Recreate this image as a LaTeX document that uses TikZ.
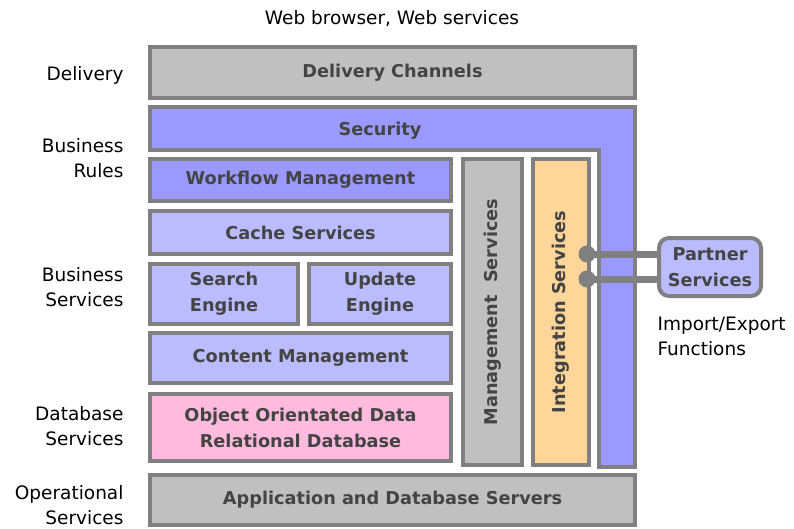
\documentclass[tikz,border=0pt]{standalone}
\usepackage{fontspec}
\setmainfont{DejaVu Sans}

\definecolor{framegray}{HTML}{808080}
\definecolor{boxgray}{HTML}{C0C0C0}
\definecolor{deepblue}{HTML}{9999FF}
\definecolor{paleblue}{HTML}{BBBBFF}
\definecolor{dbpink}{HTML}{FFBBDD}
\definecolor{integorange}{HTML}{FFD699}
\definecolor{textgray}{HTML}{444444}

\tikzstyle{layer} = [draw=framegray,line width=4pt,inner sep=0pt,align=center,text=textgray,font=\fontsize{17.7}{26}\selectfont\bfseries]
\tikzstyle{tier} = [anchor=east,align=right,font=\fontsize{18.5}{25}\selectfont]
\tikzstyle{port} = [circle,fill=framegray,minimum size=17pt,inner sep=0pt]
\tikzstyle{link} = [draw=framegray,line width=7pt]

\begin{document}
\begin{tikzpicture}[x=1pt,y=-1pt]
    \useasboundingbox (0,0) rectangle (794,528);

    % security wraps round the top and the right side
    \draw[draw=framegray,line width=4pt,fill=deepblue]
      (150,107) -- (635,107) -- (635,467) -- (599,467) -- (599,150) -- (150,150) -- cycle;
    \node[layer,draw=none] (security) at (380,130.5) {Security};

    % horizontal layers
    \foreach \name/\cx/\cy/\w/\h/\shade/\label in {
      delivery/392.5/72.5/485/51/boxgray/{Delivery Channels},
      workflow/300.5/180/301/42/deepblue/{Workflow Management},
      cache/300.5/232.5/301/43/paleblue/{Cache Services},
      search/224/294/148/60/paleblue/{Search\\Engine},
      update/380/294/142/60/paleblue/{Update\\Engine},
      content/300.5/358/301/50/paleblue/{Content Management},
      objectdb/300.5/427.5/301/67/dbpink/{Object Orientated Data\\Relational Database},
      servers/392.5/500/485/50/boxgray/{Application and Database Servers}}
    {
      \node[layer,fill=\shade,minimum width=\w pt,minimum height=\h pt] (\name) at (\cx,\cy) {\label};
    }

    % vertical columns
    \node[layer,fill=boxgray,rotate=90,minimum width=306pt,minimum height=59pt] (mgmt) at (492.5,312) {Management\ \ Services};
    \node[layer,fill=integorange,rotate=90,minimum width=306pt,minimum height=56pt] (integ) at (561,312) {Integration Services};

    % partner box and its two links
    \node[layer,fill=paleblue,rounded corners=10pt,minimum width=102pt,minimum height=58pt] (partner) at (710,267) {Partner\\Services};
    \node[port] (porta) at (587,254) {};
    \node[port] (portb) at (587,279) {};
    \foreach \p in {porta,portb}
      \draw[link] (\p.center) -- (\p.center -| partner.west);

    % tier names on the left
    \foreach \name/\y/\label in {
      delivtier/75/{Delivery},
      rulestier/158.5/{Business\\Rules},
      servtier/287.5/{Business\\Services},
      dbtier/426.5/{Database\\Services},
      optier/505.5/{Operational\\Services}}
    {
      \node[tier] (\name) at (127,\y) {\label};
    }

    \node[font=\fontsize{18.5}{25}\selectfont] (clients) at (392,19) {Web browser, Web services};
    \node[anchor=west,align=left,font=\fontsize{18.5}{25}\selectfont] (impexp) at (654,336) {Import/Export\\Functions};
\end{tikzpicture}
\end{document}
